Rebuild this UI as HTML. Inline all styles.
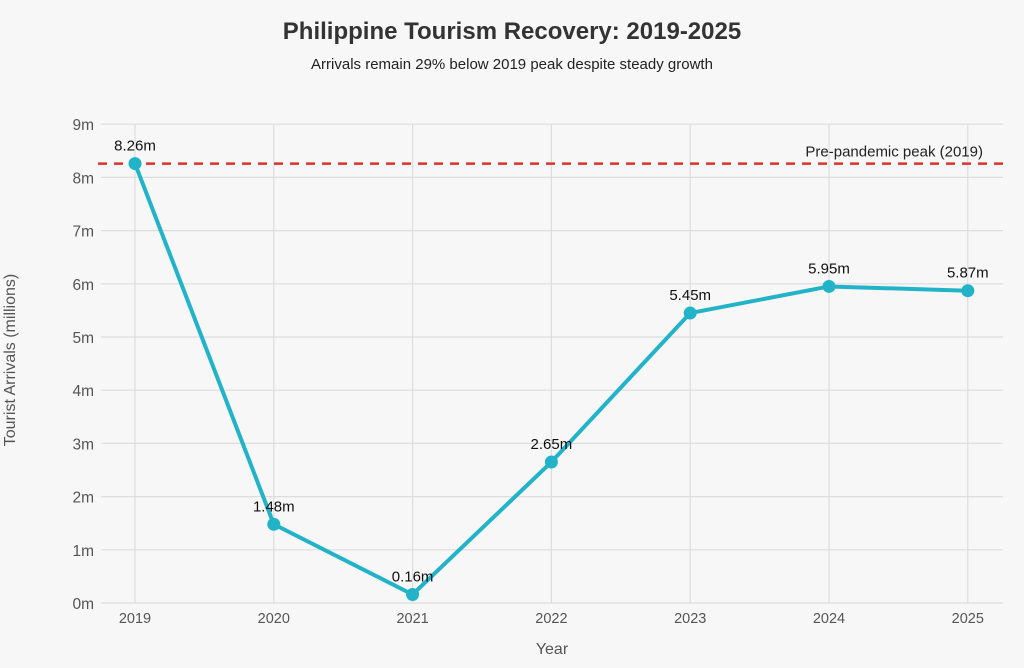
<!DOCTYPE html>
<html><head><meta charset="utf-8"><style>
body{margin:0;background:#f7f7f7;}
svg{display:block;font-family:"Liberation Sans",sans-serif;}
</style></head><body>
<svg id="chart" width="1024" height="668">
<rect width="1024" height="668" fill="#f7f7f7"/>
<text x="512" y="39" text-anchor="middle" font-size="24" font-weight="bold" fill="#333">Philippine Tourism Recovery: 2019-2025</text>
<text x="512" y="69" text-anchor="middle" font-size="15" fill="#222">Arrivals remain 29% below 2019 peak despite steady growth</text>
<g id="grid"></g><g id="axes"></g><g id="marks"></g>
<text x="552" y="654" text-anchor="middle" font-size="16" fill="#555">Year</text>
<text transform="translate(15,360) rotate(-90)" text-anchor="middle" font-size="16" fill="#555">Tourist Arrivals (millions)</text>
</svg>
<script>
const years=["2019","2020","2021","2022","2023","2024","2025"];
const arrivals=[8.26,1.48,0.16,2.65,5.45,5.95,5.87];
const labels=["8.26m","1.48m","0.16m","2.65m","5.45m","5.95m","5.87m"];
const yTicks=[0,1,2,3,4,5,6,7,8,9];
const peak=8.26;
const NS="http://www.w3.org/2000/svg";
const X=i=>135+i*138.8, Y=v=>603-v*53.2;
function mk(t,a,p){const e=document.createElementNS(NS,t);for(const k in a)e.setAttribute(k,a[k]);p.appendChild(e);return e;}
const g=document.getElementById('grid'),ax=document.getElementById('axes'),m=document.getElementById('marks');
yTicks.forEach(v=>{
 const l=mk('line',{x1:101,x2:1003,y1:Y(v),y2:Y(v),stroke:'#ddd','stroke-width':1.2},g);
 
 
 const t=mk('text',{x:94,y:Y(v)+6,'text-anchor':'end','font-size':15.5,fill:'#555'},ax);t.textContent=v+'m';
 
 
});
years.forEach((y,i)=>{
 const l=mk('line',{x1:X(i),x2:X(i),y1:Y(9),y2:Y(0),stroke:'#ddd','stroke-width':1.2},g);
 
 
 const t=mk('text',{x:X(i),y:623,'text-anchor':'middle','font-size':14.5,fill:'#555'},ax);t.textContent=y;
 
 
});
const pl=mk('line',{x1:98,x2:1003,y1:Y(peak),y2:Y(peak),stroke:'#d63333','stroke-width':2.5,'stroke-dasharray':'9,7'},m);


const pt=mk('text',{x:983,y:Y(peak)-7,'text-anchor':'end','font-size':15,fill:'#222'},m);pt.textContent='Pre-pandemic peak (2019)';


const ln=mk('polyline',{points:arrivals.map((v,i)=>X(i)+','+Y(v)).join(' '),fill:'none',stroke:'#22b3c9','stroke-width':4,'stroke-linejoin':'round'},m);


arrivals.forEach((v,i)=>{
 const c=mk('circle',{cx:X(i),cy:Y(v),r:6.5,fill:'#22b3c9'},m);
 
 
 const t=mk('text',{x:X(i),y:Y(v)-13,'text-anchor':'middle','font-size':15,fill:'#111'},m);t.textContent=labels[i];
 
 
});
</script>
</body></html>
